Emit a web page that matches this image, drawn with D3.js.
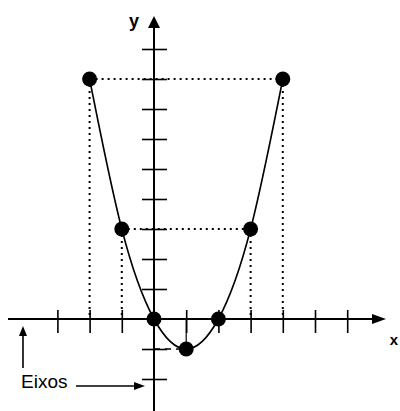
<!DOCTYPE html>
<html>
<head>
<meta charset="utf-8">
<script src="https://cdn.jsdelivr.net/npm/d3@7"></script>
<style>
  body { margin: 0; background: #fff; }
  svg { display: block; }
  .lbl { font-family: "Liberation Sans", Arial, sans-serif; fill: #000; }
</style>
</head>
<body>
<div id="chart"></div>
<script>
// points of the parabola
const pointX = [-2, -1, 0, 1, 2, 3, 4];
const pointY = [8, 3, 0, -1, 0, 3, 8];
// tick marks on the axes
const xTicks = [-3, -2, -1, 1, 2, 3, 4, 5, 6];
const yTicks = [-2, -1, 1, 2, 3, 4, 5, 6, 7, 8, 9];
// dotted guides: [x1, y1, x2, y2] in data units
const guides = [
    [-2, 8, 4, 8],
    [-1, 3, 3, 3],
    [-2, 8, -2, 0],
    [4, 8, 4, 0],
    [-1, 3, -1, 0],
    [3, 3, 3, 0]
];

const width = 400, height = 411;

const svg = d3.select('#chart')
    .append('svg')
    .attr('width', width)
    .attr('height', height);

const x = d3.scaleLinear().domain([-3, 6]).range([57.4, 347.2]);
const y = d3.scaleLinear().domain([-2, 9]).range([379, 49]);

const points = pointX.map((d, i) => ({ x: d, y: pointY[i] }));

// Dotted guide lines
svg.selectAll('.guide')
    .data(guides)
    .enter()
    .append('line')
    .attr('class', 'guide')
    .attr('x1', d => x(d[0]))
    .attr('y1', d => y(d[1]))
    .attr('x2', d => x(d[2]))
    .attr('y2', d => y(d[3]))
    .attr('stroke', '#000')
    .attr('stroke-width', 2)
    .attr('stroke-dasharray', '2,4');

// dashed bit from the y axis to the vertex, and the small drop at x = 1
svg.append('line')
    .attr('x1', x(0)).attr('y1', y(-1))
    .attr('x2', x(1)).attr('y2', y(-1))
    .attr('stroke', '#000').attr('stroke-width', 1.5)
    .attr('stroke-dasharray', '6,5');
svg.append('line')
    .attr('x1', x(1)).attr('y1', y(0))
    .attr('x2', x(1)).attr('y2', y(-1))
    .attr('stroke', '#000').attr('stroke-width', 1.2);

// X axis
const xAxis = svg.append('g')
    .attr('transform', 'translate(0,' + y(0) + ')')
    .call(d3.axisBottom(x).tickValues(xTicks).tickFormat('').tickSizeOuter(0));
xAxis.select('.domain').remove();
xAxis.selectAll('.tick line')
    .attr('y1', -9).attr('y2', 14)
    .attr('stroke', '#000').attr('stroke-width', 1.6);
svg.append('line')
    .attr('x1', 8).attr('y1', y(0))
    .attr('x2', 376).attr('y2', y(0))
    .attr('stroke', '#000').attr('stroke-width', 2);
svg.append('path')
    .attr('d', 'M386,' + y(0) + 'L372,' + (y(0) - 5) + 'L372,' + (y(0) + 5) + 'Z')
    .attr('fill', '#000');

// Y axis
const yAxis = svg.append('g')
    .attr('transform', 'translate(' + x(0) + ',0)')
    .call(d3.axisLeft(y).tickValues(yTicks).tickFormat('').tickSizeOuter(0));
yAxis.select('.domain').remove();
yAxis.selectAll('.tick line')
    .attr('x1', -12).attr('x2', 13)
    .attr('stroke', '#000').attr('stroke-width', 1.6);
svg.append('line')
    .attr('x1', x(0)).attr('y1', 26)
    .attr('x2', x(0)).attr('y2', height)
    .attr('stroke', '#000').attr('stroke-width', 2);
svg.append('path')
    .attr('d', 'M' + x(0) + ',16L' + (x(0) - 6) + ',28L' + (x(0) + 6) + ',28Z')
    .attr('fill', '#000');

// Parabola
const line = d3.line()
    .x(d => x(d.x))
    .y(d => y(d.y))
    .curve(d3.curveNatural);
svg.append('path')
    .datum(points)
    .attr('d', line)
    .attr('fill', 'none')
    .attr('stroke', '#000')
    .attr('stroke-width', 1.6);

// Points
svg.selectAll('.pt')
    .data(points)
    .enter()
    .append('circle')
    .attr('class', 'pt')
    .attr('cx', d => x(d.x))
    .attr('cy', d => y(d.y))
    .attr('r', 7.5)
    .attr('fill', '#000');

// Axis letters
svg.append('text').attr('class', 'lbl')
    .attr('x', 134).attr('y', 27)
    .attr('text-anchor', 'middle')
    .style('font-size', '18px').style('font-weight', 'bold')
    .text('y');
svg.append('text').attr('class', 'lbl')
    .attr('x', 394).attr('y', 345)
    .attr('text-anchor', 'middle')
    .style('font-size', '15px').style('font-weight', 'bold')
    .text('x');

// "Eixos" note with its arrows
svg.append('text').attr('class', 'lbl')
    .attr('x', 21).attr('y', 388)
    .style('font-size', '19px')
    .text('Eixos');
svg.append('line')
    .attr('x1', 23).attr('y1', 368).attr('x2', 23).attr('y2', 334)
    .attr('stroke', '#000').attr('stroke-width', 1.6);
svg.append('path')
    .attr('d', 'M23,326L19,336L27,336Z')
    .attr('fill', '#000');
svg.append('line')
    .attr('x1', 76).attr('y1', 386).attr('x2', 136).attr('y2', 386)
    .attr('stroke', '#000').attr('stroke-width', 1.6);
svg.append('path')
    .attr('d', 'M145,386L134,382L134,390Z')
    .attr('fill', '#000');
</script>
</body>
</html>
